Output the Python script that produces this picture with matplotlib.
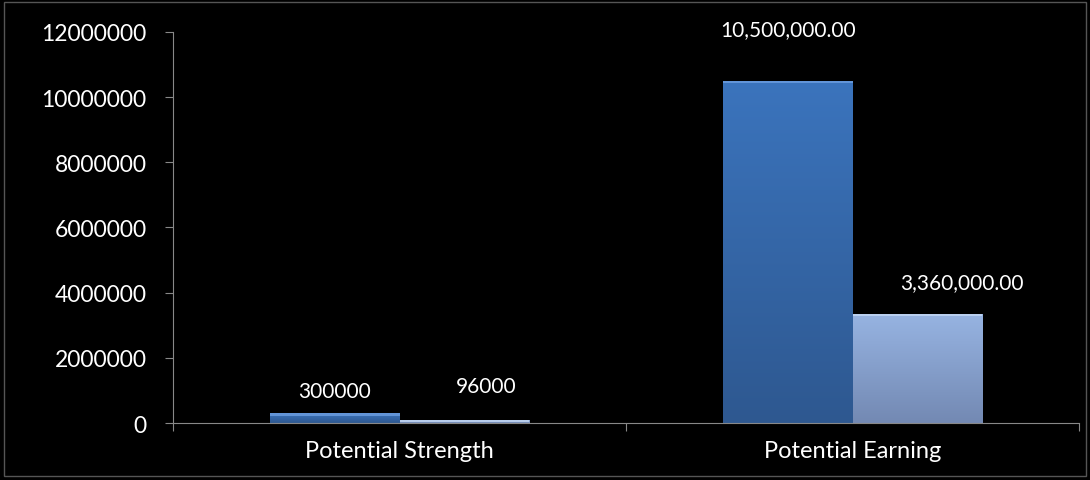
import numpy as np
import matplotlib.pyplot as plt
from matplotlib.colors import LinearSegmentedColormap
from matplotlib.patches import Rectangle

plt.rcParams['font.family'] = ['Lato', 'DejaVu Sans']

categories = ['Potential Strength', 'Potential Earning']
series_a = [300000, 10500000]
series_b = [96000, 3360000]
labels_a = ['300000', '10,500,000.00']
labels_b = ['96000', '3,360,000.00']
y_ticks = [0, 2000000, 4000000, 6000000, 8000000, 10000000, 12000000]

fig = plt.figure(figsize=(10.9, 4.81), dpi=100, facecolor='black')
ax = fig.add_axes([0.1587, 0.1185, 0.8313, 0.813])
ax.set_facecolor('black')

x = np.arange(len(categories))
w = 0.285
bars_a = ax.bar(x - w / 2, series_a, w, color='#3a70b4', zorder=2)
bars_b = ax.bar(x + w / 2, series_b, w, color='#8eaad6', zorder=2)

cmap_a = LinearSegmentedColormap.from_list('a', ['#2e5890', '#3b74bd'])
cmap_b = LinearSegmentedColormap.from_list('b', ['#7389b3', '#97b4e2'])
grad = np.linspace(0, 1, 256).reshape(-1, 1)
for bars, cmap, hi in [(bars_a, cmap_a, '#6d9ee0'), (bars_b, cmap_b, '#c4d8f4')]:
    for b in bars:
        x0, y0 = b.get_x(), b.get_y()
        bw, bh = b.get_width(), b.get_height()
        im = ax.imshow(grad, cmap=cmap, origin='lower', aspect='auto',
                       extent=[x0, x0 + bw, y0, y0 + bh], zorder=3)
        im.set_clip_path(b)
        # bevel highlight along the top edge
        ax.add_patch(Rectangle((x0, y0 + bh - min(bh, 70000)), bw, min(bh, 70000),
                               color=hi, alpha=0.8, zorder=4, lw=0))

off_a = [22, 52]
off_b = [34, 31]
dx_b = [22, 45]
for i in range(len(categories)):
    ax.annotate(labels_a[i], (x[i] - w / 2, series_a[i]), xytext=(0, off_a[i]),
                textcoords='offset pixels', ha='center', va='center',
                color='white', fontsize=15)
    ax.annotate(labels_b[i], (x[i] + w / 2, series_b[i]), xytext=(dx_b[i], off_b[i]),
                textcoords='offset pixels', ha='center', va='center',
                color='white', fontsize=15)

ax.set_xlim(-0.5, 1.5)
ax.set_ylim(0, 12000000)
ax.set_yticks(y_ticks)
ax.set_yticklabels([str(t) for t in y_ticks])
ax.set_xticks([-0.5, 0.5, 1.5])
ax.set_xticklabels([])
ax.set_xticks(x, minor=True)
ax.set_xticklabels(categories, minor=True)
ax.tick_params(axis='x', which='minor', length=0, pad=12, labelsize=17, colors='white')
ax.tick_params(axis='x', which='major', length=6, color='#888888')
ax.tick_params(axis='y', length=6, color='#888888', labelcolor='white', labelsize=16.5, pad=13)
for s in ['top', 'right']:
    ax.spines[s].set_visible(False)
for s in ['left', 'bottom']:
    ax.spines[s].set_color('#888888')
    ax.spines[s].set_zorder(5)

fig.patches.append(Rectangle((0.004, 0.008), 0.992, 0.985, transform=fig.transFigure,
                             fill=False, edgecolor='#555555', lw=1))

fig.savefig('out.png', dpi=100, facecolor='black')
